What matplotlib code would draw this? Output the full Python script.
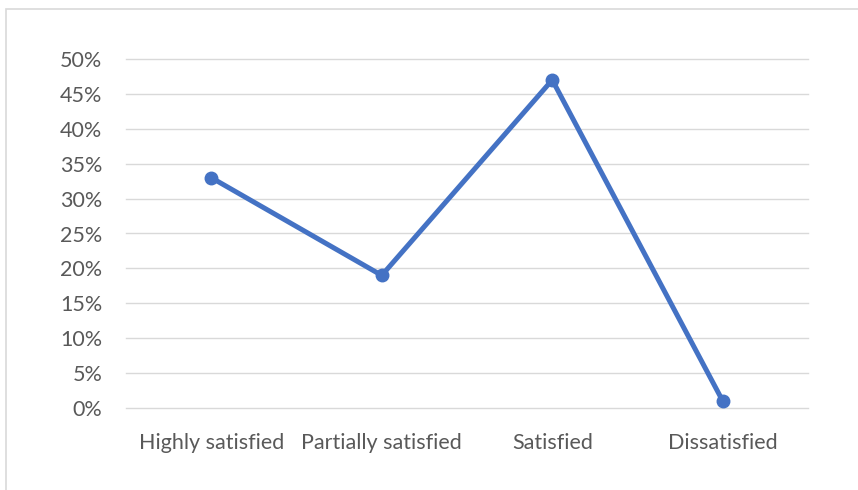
import matplotlib.pyplot as plt
from matplotlib.patches import Rectangle
from matplotlib.ticker import FuncFormatter

categories = ["Highly satisfied", "Partially satisfied", "Satisfied", "Dissatisfied"]
shares = [0.33, 0.19, 0.47, 0.01]
y_ticks = [0.0, 0.05, 0.10, 0.15, 0.20, 0.25, 0.30, 0.35, 0.40, 0.45, 0.50]

plt.rcParams["font.family"] = ["Lato", "DejaVu Sans"]

fig = plt.figure(figsize=(8.58, 4.9), dpi=100)
# chart frame
fig.patches.append(Rectangle((6 / 858, -0.1), 1.2, (490 - 9) / 490 + 0.1,
                             transform=fig.transFigure, fill=False,
                             edgecolor="#D9D9D9", linewidth=1.2))

ax = fig.add_axes([126 / 858, 82 / 490, 682 / 858, 349 / 490])
x = list(range(len(categories)))
ax.plot(x, shares, color="#4472C4", linewidth=3.6, marker="o",
        markersize=9, solid_capstyle="round", zorder=3)

ax.set_xlim(-0.5, len(categories) - 0.5)
ax.set_ylim(0, 0.5)
ax.set_yticks(y_ticks)
ax.yaxis.set_major_formatter(FuncFormatter(lambda v, _: f"{v * 100:.0f}%"))
ax.set_xticks(x)
ax.set_xticklabels(categories)
for t in y_ticks:
    ax.axhline(t, color="#D9D9D9", linewidth=1, zorder=1, clip_on=False)
for s in ax.spines.values():
    s.set_visible(False)
ax.tick_params(axis="both", length=0, labelsize=15.5, colors="#595959")
ax.tick_params(axis="y", pad=17)
ax.tick_params(axis="x", pad=18)

fig.savefig("out.png", dpi=100)
